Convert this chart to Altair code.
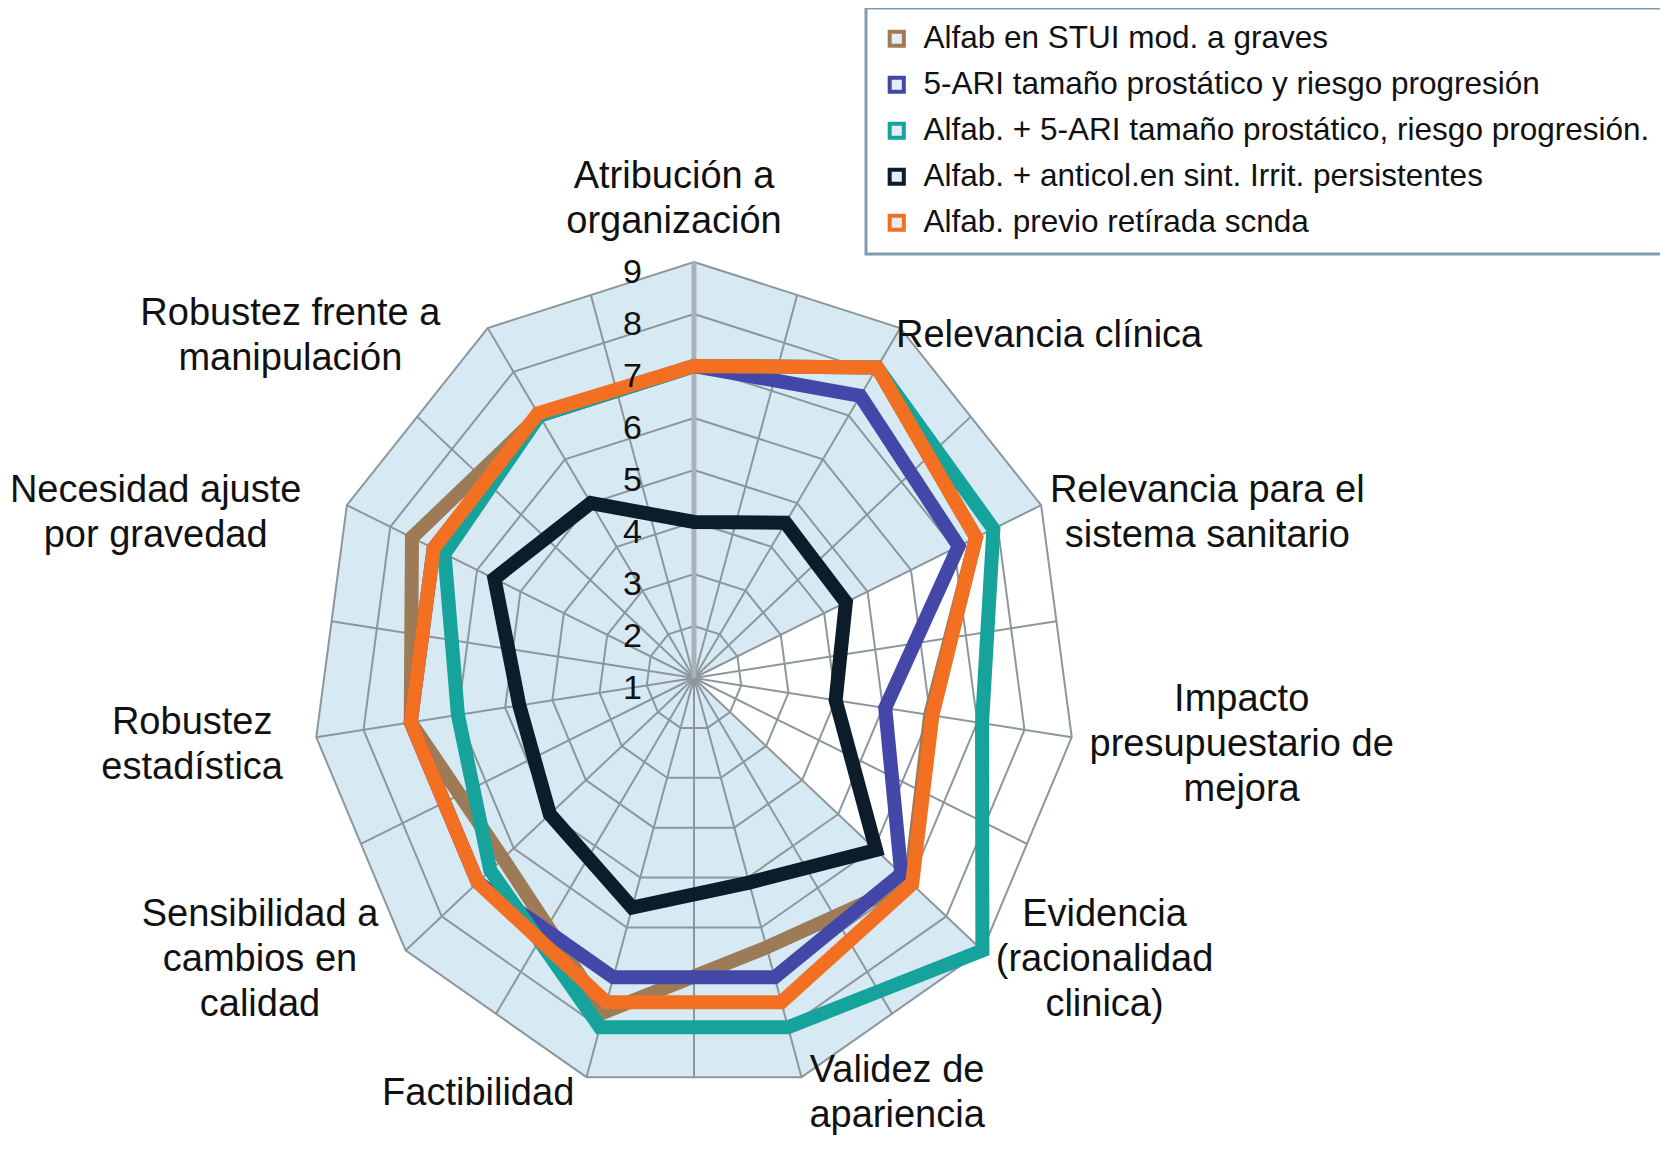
import math
import pandas as pd
import altair as alt

# ---------------- data ----------------
axis_labels = [
    "Atribución a\norganización",
    "Relevancia clínica",
    "Relevancia para el\nsistema sanitario",
    "Impacto\npresupuestario de\nmejora",
    "Evidencia\n(racionalidad\nclinica)",
    "Validez de\napariencia",
    "Factibilidad",
    "Sensibilidad a\ncambios en\ncalidad",
    "Robustez\nestadística",
    "Necesidad ajuste\npor gravedad",
    "Robustez frente a\nmanipulación",
]

series_names = [
    "Alfab en STUI mod. a graves",
    "5-ARI tamaño prostático y riesgo progresión",
    "Alfab. + 5-ARI tamaño prostático, riesgo progresión.",
    "Alfab. + anticol.en sint. Irrit. persistentes",
    "Alfab. previo retírada scnda",
]
series_colors = ["#9e7b57", "#4348a8", "#16a39b", "#0d1c2a", "#f36f22"]

val_alfab_stui = [7.0, 8.1, 7.5, 6.0, 7.0, 6.4, 7.7, 6.3, 7.0, 7.5, 7.0]
val_5ari = [7.0, 7.45, 7.1, 5.05, 6.75, 7.0, 7.0, 7.0, 7.0, 7.0, 7.0]
val_alfab_5ari = [7.0, 8.1, 7.9, 7.1, 9.0, 8.0, 8.0, 6.65, 6.0, 6.75, 7.0]
val_alfab_anticol = [4.0, 4.55, 4.5, 4.0, 6.05, 5.1, 5.6, 5.0, 4.7, 5.6, 5.0]
val_alfab_previo = [7.0, 8.1, 7.5, 6.05, 7.05, 7.5, 7.5, 7.0, 7.0, 7.0, 7.05]

series_values = [val_alfab_stui, val_5ari, val_alfab_5ari, val_alfab_anticol, val_alfab_previo]

tick_values = [1, 2, 3, 4, 5, 6, 7, 8, 9]
shaded_extent = [9, 9, 9, 1, 9, 9, 9, 9, 9, 9, 9]

# ---------------- layout ----------------
N = len(axis_labels)
V_MIN, V_MAX = 1, 9
PXX = 47.7   # horizontal pixels per value unit
PXY = 52.0   # vertical pixels per value unit
W, H = 1652, 1153
CX, CY = 686, 670
FONT = "Liberation Sans"
GRID = "#8c979d"
BG = "#d7eaf4"

xdom = [-CX / PXX, (W - CX) / PXX]
ydom = [-(H - CY) / PXY, CY / PXY]
XS = alt.Scale(domain=xdom, nice=False, zero=False)
YS = alt.Scale(domain=ydom, nice=False, zero=False)

px_expr = f"(datum.v - {V_MIN}) * sin(datum.k * 2 * PI / {N})"
py_expr = f"(datum.v - {V_MIN}) * cos(datum.k * 2 * PI / {N})"

rows = []
for s_i, (name, vals) in enumerate(zip(series_names, series_values)):
    for k, v in enumerate(vals):
        rows.append({"series": name, "s": s_i, "k": k, "v": v})
series_df = pd.DataFrame(rows)

bg_df = pd.DataFrame({"k": list(range(N)), "v": shaded_extent})

ring_rows = []
for t in tick_values[1:]:
    for k in range(N):
        ring_rows.append({"ring": t, "k": k, "v": t})
ring_df = pd.DataFrame(ring_rows)

spoke_df = pd.DataFrame({"j": list(range(2 * N))})
tick_df = pd.DataFrame({"t": tick_values})

# axis label positions derived from the axis angle and estimated text width
CHAR_EM = {
    " ": 0.278, "i": 0.222, "l": 0.222, "í": 0.278, "j": 0.222, "f": 0.278, "t": 0.278,
    "r": 0.333, "(": 0.333, ")": 0.333, ".": 0.278, ",": 0.278, "c": 0.5, "s": 0.5,
    "v": 0.5, "z": 0.5, "y": 0.5, "k": 0.5, "m": 0.833, "I": 0.278, "F": 0.611,
    "R": 0.722, "N": 0.722, "A": 0.667, "S": 0.667, "E": 0.667, "V": 0.667,
}
F_LAB = 38
LH = 45
EM_PX = 39.5
RSPAN = V_MAX - V_MIN


def em_width(s):
    return sum(CHAR_EM.get(ch, 0.556) for ch in s)


lab_rows = []
for k, lab in enumerate(axis_labels):
    th = 2 * math.pi * k / N
    sn, cs = math.sin(th), math.cos(th)
    vx, vy = RSPAN * PXX * sn, RSPAN * PXY * cs      # vertex, pixels, y up
    lines = lab.split("\n")
    w = max(em_width(l) for l in lines) * EM_PX
    h = len(lines) * LH
    shift = -20 * max(cs, 0)
    drop = 8 + 10 * max(-cs, 0) ** 4
    if abs(sn) < 0.1:
        cx, cy = vx + shift, vy + 18 + h / 2
    elif sn > 0:
        gap = 12 * abs(sn) - 20 * max(cs, 0)
        cx, cy = vx + w / 2 + gap, vy - drop
    else:
        gap = 30 * abs(sn) + 30 * max(cs, 0)
        cx, cy = vx - w / 2 - gap, vy - drop
    first_line_y = cy + (len(lines) - 1) * LH / 2
    lab_rows.append({"label": lab, "x": cx / PXX, "y": first_line_y / PXY})
lab_df = pd.DataFrame(lab_rows)

# ---------------- layers ----------------
X = alt.X("x:Q", scale=XS, axis=None)
Y = alt.Y("y:Q", scale=YS, axis=None)

background = (
    alt.Chart(bg_df)
    .transform_calculate(x=px_expr, y=py_expr)
    .mark_line(interpolate="linear-closed", filled=True, color=BG)
    .encode(x=X, y=Y, order="k:Q")
)

spoke_base = alt.Chart(spoke_df).transform_calculate(
    ang="datum.j * PI / %d" % N,
    rr="(datum.j %% 2 == 0 ? 1 : cos(PI / %d)) * %d" % (N, RSPAN),
    x0="0",
    y0="0",
).transform_calculate(
    xe="datum.rr * sin(datum.ang)", ye="datum.rr * cos(datum.ang)"
)

spokes = spoke_base.transform_filter("datum.j > 0").mark_rule(
    color=GRID, strokeWidth=2
).encode(
    x=alt.X("x0:Q", scale=XS, axis=None),
    y=alt.Y("y0:Q", scale=YS, axis=None),
    x2="xe:Q",
    y2="ye:Q",
)

value_axis = spoke_base.transform_filter("datum.j == 0").mark_rule(
    color="#a8b3b9", strokeWidth=5
).encode(
    x=alt.X("x0:Q", scale=XS, axis=None),
    y=alt.Y("y0:Q", scale=YS, axis=None),
    x2="xe:Q",
    y2="ye:Q",
)

rings = (
    alt.Chart(ring_df)
    .transform_calculate(x=px_expr, y=py_expr)
    .mark_line(interpolate="linear-closed", color=GRID, strokeWidth=2)
    .encode(x=X, y=Y, detail="ring:N", order="k:Q")
)

color = alt.Color(
    "series:N",
    scale=alt.Scale(domain=series_names, range=series_colors),
    legend=alt.Legend(
        title=None,
        orient="none",
        legendX=858,
        legendY=0,
        padding=15,
        rowPadding=13,
        labelFontSize=31.5,
        labelFont=FONT,
        labelColor="#111111",
        labelLimit=1200,
        labelOffset=11,
        symbolType="square",
        symbolSize=200,
        symbolStrokeWidth=4,
        symbolFillColor="#e6edf5",
        strokeColor="#7d9db3",
        fillColor="#ffffff",
    ),
)

series_layers = []
for name in series_names:
    series_layers.append(
        alt.Chart(series_df)
        .transform_filter(alt.datum.series == name)
        .transform_calculate(x=px_expr, y=py_expr)
        .mark_line(interpolate="linear-closed", strokeWidth=14, strokeJoin="miter")
        .encode(x=X, y=Y, color=color, order="k:Q")
    )

ticks = (
    alt.Chart(tick_df)
    .transform_calculate(x="0", y="datum.t - %d" % V_MIN)
    .mark_text(align="right", baseline="middle", dx=-52, dy=11, fontSize=34, font=FONT, color="#111111")
    .encode(x=X, y=Y, text="t:N")
)

labels = (
    alt.Chart(lab_df)
    .mark_text(align="center", baseline="middle", lineBreak="\n", fontSize=F_LAB,
               lineHeight=LH, font=FONT, color="#111111")
    .encode(x=X, y=Y, text="label:N")
)

chart = (
    alt.layer(background, spokes, rings, value_axis, *series_layers, ticks, labels)
    .properties(width=W, height=H, padding=0, autosize=alt.AutoSizeParams(type="none"))
    .configure_view(strokeWidth=0)
    .configure_legend(strokeWidth=3)
)

chart.save("out.html", embed_options={"renderer": "svg", "actions": False})
